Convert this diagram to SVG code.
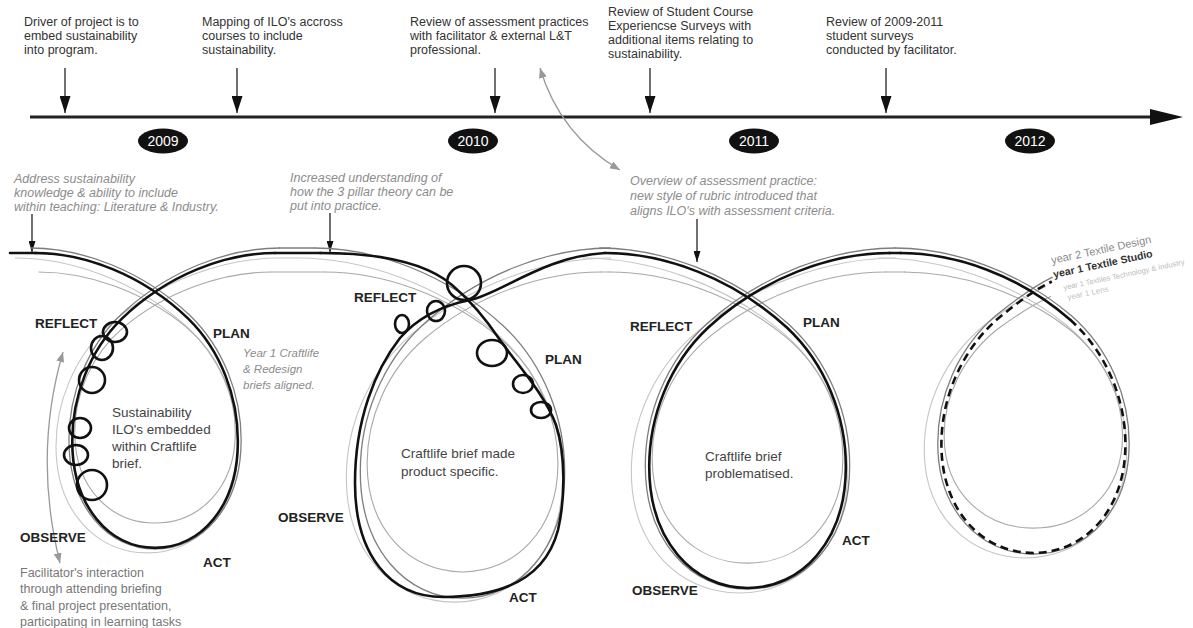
<svg xmlns="http://www.w3.org/2000/svg" width="1193" height="628" viewBox="0 0 1193 628">
<style>
text{font-family:"Liberation Sans",Arial,sans-serif}
.t{font-size:12.5px;fill:#333}
.it{font-size:12.5px;fill:#8c8c8c;font-style:italic}
.lb{font-size:13.5px;font-weight:bold;fill:#222}
.body{font-size:13.5px;fill:#444}
.yr{font-size:14px;fill:#fff;text-anchor:middle}
.thick{fill:none;stroke:#111;stroke-width:2.6;stroke-linecap:round}
.g1{fill:none;stroke:#7d7d7d;stroke-width:1.3}
.g2{fill:none;stroke:#a8a8a8;stroke-width:1.1}
.g3{fill:none;stroke:#c6c6c6;stroke-width:1.1}
.dash{stroke-dasharray:8 5;stroke-linecap:butt}
.ann{stroke:#111;stroke-width:1.2;fill:none}
.garr{stroke:#999;stroke-width:1.3;fill:none}
</style>
<defs>
<path id="loop" vector-effect="non-scaling-stroke" d="M0,0 C60,0 130,25 185,75 C225,112 245,165 245,215 C245,290 200,337 145,337 C90,337 45,290 45,215 C45,165 65,112 105,75 C160,25 230,0 290,0"/>
<path id="end" vector-effect="non-scaling-stroke" d="M0,0 C60,0 130,25 185,75 C225,112 245,165 245,215 C245,290 200,337 145,337 C90,337 45,290 45,215 C45,165 65,112 105,75 C125,58 145,42 165,32"/>
<path id="endA" vector-effect="non-scaling-stroke" d="M0,0 C60,0 130,25 185,75"/>
<path id="endB" vector-effect="non-scaling-stroke" d="M185,75 C225,112 245,165 245,215 C245,290 200,337 145,337 C90,337 45,290 45,215 C45,165 65,112 105,75 C125,58 145,42 165,32"/>
<marker id="ba" markerUnits="userSpaceOnUse" markerWidth="17" markerHeight="11" refX="17" refY="5.5" orient="auto"><path d="M0,0 L17,5.5 L0,11 z" fill="#111"/></marker>
<marker id="bs" markerUnits="userSpaceOnUse" markerWidth="11" markerHeight="7" refX="11" refY="3.5" orient="auto"><path d="M0,0 L11,3.5 L0,7 z" fill="#111"/></marker>
<marker id="ga" markerUnits="userSpaceOnUse" markerWidth="10" markerHeight="8" refX="10" refY="4" orient="auto-start-reverse"><path d="M0,0 L10,4 L0,8 z" fill="#999"/></marker>
</defs>

<g id="timeline">
<line x1="30" y1="117" x2="1155" y2="117" stroke="#222" stroke-width="3"/>
<polygon points="1150,109 1183,117 1150,125" fill="#111"/>
</g>

<g id="years">
<g id="y2009"><ellipse cx="163" cy="141" rx="25" ry="12.5" fill="#111"/><text class="yr" x="163" y="146">2009</text></g>
<g id="y2010"><ellipse cx="473" cy="141" rx="25" ry="12.5" fill="#111"/><text class="yr" x="473" y="146">2010</text></g>
<g id="y2011"><ellipse cx="754" cy="141" rx="25" ry="12.5" fill="#111"/><text class="yr" x="754" y="146">2011</text></g>
<g id="y2012"><ellipse cx="1030" cy="141" rx="25" ry="12.5" fill="#111"/><text class="yr" x="1030" y="146">2012</text></g>
</g>

<g id="events">
<g id="ev1"><text class="t" x="24" y="26">Driver of project is to<tspan x="24" dy="14">embed sustainability</tspan><tspan x="24" dy="14">into program.</tspan></text></g>
<g id="ev2"><text class="t" x="202" y="26">Mapping of ILO's accross<tspan x="202" dy="14">courses to include</tspan><tspan x="202" dy="14">sustainability.</tspan></text></g>
<g id="ev3"><text class="t" x="410" y="26">Review of assessment practices<tspan x="410" dy="14">with facilitator &amp; external L&amp;T</tspan><tspan x="410" dy="14">professional.</tspan></text></g>
<g id="ev4"><text class="t" x="608" y="16">Review of Student Course<tspan x="608" dy="14">Experiencse Surveys with</tspan><tspan x="608" dy="14">additional items relating to</tspan><tspan x="608" dy="14">sustainability.</tspan></text></g>
<g id="ev5"><text class="t" x="826" y="26">Review of 2009-2011<tspan x="826" dy="14">student surveys</tspan><tspan x="826" dy="14">conducted by facilitator.</tspan></text></g>
</g>

<g id="notes">
<g id="n1"><text class="it" x="14" y="183">Address sustainability<tspan x="14" dy="14">knowledge &amp; ability to include</tspan><tspan x="14" dy="14">within teaching: Literature &amp; Industry.</tspan></text></g>
<g id="n2"><text class="it" x="290" y="182">Increased understanding of<tspan x="290" dy="14">how the 3 pillar theory can be</tspan><tspan x="290" dy="14">put into practice.</tspan></text></g>
<g id="n3"><text class="it" x="630" y="185">Overview of assessment practice:<tspan x="630" dy="15">new style of rubric introduced that</tspan><tspan x="630" dy="15">aligns ILO's with assessment criteria.</tspan></text></g>
<g id="n4"><text class="it" x="243" y="357" style="font-size:11.5px">Year 1 Craftlife<tspan x="243" dy="16">&amp; Redesign</tspan><tspan x="243" dy="16">briefs aligned.</tspan></text></g>
<g id="n5"><text class="t" x="20" y="577" style="fill:#777">Facilitator's interaction<tspan x="20" dy="16.3">through attending briefing</tspan><tspan x="20" dy="16.3">&amp; final project presentation,</tspan><tspan x="20" dy="16.3">participating in learning tasks</tspan></text></g>
</g>

<g id="connectors">
<line class="ann" x1="65" y1="68" x2="65" y2="113" marker-end="url(#ba)"/>
<line class="ann" x1="237" y1="68" x2="237" y2="113" marker-end="url(#ba)"/>
<line class="ann" x1="495" y1="68" x2="495" y2="113" marker-end="url(#ba)"/>
<line class="ann" x1="650" y1="68" x2="650" y2="113" marker-end="url(#ba)"/>
<line class="ann" x1="886" y1="68" x2="886" y2="113" marker-end="url(#ba)"/>
<line class="ann" x1="32" y1="214" x2="32" y2="252" marker-end="url(#bs)"/>
<line class="ann" x1="330" y1="213" x2="330" y2="252" marker-end="url(#bs)"/>
<line class="ann" x1="697" y1="219" x2="697" y2="262" marker-end="url(#bs)"/>
<path class="garr" d="M540,68 Q560,135 620,170" marker-start="url(#ga)" marker-end="url(#ga)"/>
<path class="garr" d="M63,352 Q33,455 60,563" marker-start="url(#ga)" marker-end="url(#ga)"/>
</g>

<g id="spiral">
<g id="line-g3">
<path class="g3" d="M279,258 H298"/>
<use href="#loop" class="g3" transform="translate(15,258) scale(0.911,0.875)"/>
<use href="#loop" class="g3" transform="translate(297.7,258) scale(1.081,1.021)"/>
<use href="#loop" class="g3" transform="translate(582.7,258) scale(1.081,0.994)"/>
<use href="#end" class="g3" transform="translate(878.7,258) scale(1.012,0.89)"/>
</g>
<g id="line-g2">
<path class="g2" d="M271,272 H325 M600,272 H610 M885,272 H905"/>
<use href="#loop" class="g2" transform="translate(38.6,272) scale(0.803,0.745)"/>
<use href="#loop" class="g2" transform="translate(324.2,272) scale(0.954,0.890)"/>
<use href="#loop" class="g2" transform="translate(609.2,272) scale(0.954,0.864)"/>
<use href="#end" class="g2" transform="translate(904,272) scale(0.892,0.760)"/>
</g>
<g id="line-g1">
<path class="g1" d="M279,248 H315"/>
<use href="#loop" class="g1" transform="translate(30.2,248) scale(0.861,0.893)"/>
<use href="#loop" class="g1" transform="translate(314.3,248) scale(1.022,1.039)"/>
<use href="#loop" class="g1" transform="translate(599.3,248) scale(1.022,1.012)"/>
<use href="#end" class="g1" transform="translate(894.7,248) scale(0.957,0.908)"/>
</g>
<g id="line-thick">
<path class="thick" d="M10,253 H36 M275,253 H321 M889,253 H901"/>
<use href="#loop" class="thick" transform="translate(35,253) scale(0.828,0.875)"/>
<path class="thick" d="M320,253 C380,253 425,262 452,285 C472,302 488,322 500,340 C520,368 545,395 556,425 C566,455 565,500 558,530 C545,580 500,597 443,597 C390,597 355,555 355,483 C355,420 375,370 400,338 C420,315 445,305 470,300 C500,294 545,256 605,253"/>
<use href="#loop" class="thick" transform="translate(605,253) scale(0.983,0.994)"/>
<use href="#endA" class="thick" transform="translate(900,253) scale(0.92,0.89)"/>
<use href="#endB" class="thick dash" transform="translate(900,253) scale(0.92,0.89)"/>
<ellipse class="thick" cx="115" cy="332" rx="12" ry="10"/>
<ellipse class="thick" cx="102" cy="348" rx="11" ry="12"/>
<ellipse class="thick" cx="92" cy="380" rx="13" ry="13"/>
<ellipse class="thick" cx="80" cy="428" rx="11" ry="10"/>
<ellipse class="thick" cx="76" cy="455" rx="12" ry="10"/>
<ellipse class="thick" cx="92" cy="485" rx="15" ry="15"/>
<ellipse class="thick" cx="464" cy="283" rx="17" ry="17"/>
<ellipse class="thick" cx="402" cy="324" rx="7" ry="9"/>
<ellipse class="thick" cx="436" cy="311" rx="9" ry="10"/>
<ellipse class="thick" cx="492" cy="353" rx="15" ry="13"/>
<ellipse class="thick" cx="523" cy="384" rx="10" ry="9"/>
<ellipse class="thick" cx="541" cy="410" rx="10" ry="8"/>
</g>
</g>

<g id="labels">
<g id="loop1-labels">
<text class="lb" x="35" y="328">REFLECT</text>
<text class="lb" x="213" y="338">PLAN</text>
<text class="lb" x="203" y="567">ACT</text>
<text class="lb" x="20" y="542">OBSERVE</text>
<text class="body" x="112" y="417">Sustainability<tspan x="112" dy="17">ILO's embedded</tspan><tspan x="112" dy="17">within Craftlife</tspan><tspan x="112" dy="17">brief.</tspan></text>
</g>
<g id="loop2-labels">
<text class="lb" x="354" y="302">REFLECT</text>
<text class="lb" x="545" y="364">PLAN</text>
<text class="lb" x="509" y="602">ACT</text>
<text class="lb" x="278" y="522">OBSERVE</text>
<text class="body" x="401" y="458">Craftlife brief made<tspan x="401" dy="18">product specific.</tspan></text>
</g>
<g id="loop3-labels">
<text class="lb" x="630" y="331">REFLECT</text>
<text class="lb" x="803" y="327">PLAN</text>
<text class="lb" x="842" y="545">ACT</text>
<text class="lb" x="632" y="595">OBSERVE</text>
<text class="body" x="705" y="461">Craftlife brief<tspan x="705" dy="17">problematised.</tspan></text>
</g>
<g id="course-labels">
<text x="1052" y="264" transform="rotate(-12 1052 264)" style="font-size:11px;fill:#8a8a8a">year 2 Textile Design</text>
<text x="1054" y="278" transform="rotate(-12 1054 278)" style="font-size:10.5px;font-weight:bold;fill:#333">year 1 Textile Studio</text>
<text x="1064" y="290" transform="rotate(-12 1064 290)" style="font-size:7.5px;fill:#bbb">year 1 Textiles Technology &amp; Industry</text>
<text x="1068" y="300" transform="rotate(-12 1068 300)" style="font-size:8px;fill:#c4c4c4">year 1 Lens</text>
</g>
</g>
</svg>
